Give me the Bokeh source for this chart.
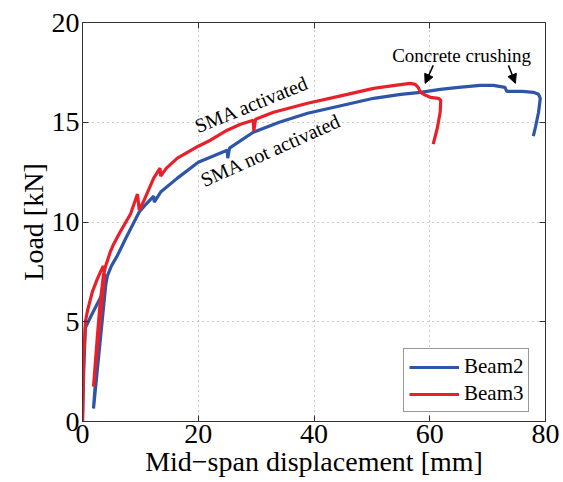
from bokeh.plotting import figure
from bokeh.models import (Range1d, LinearAxis, Legend, LegendItem, Label, Arrow,
                          NormalHead, FixedTicker)
from bokeh.embed import file_html
from bokeh.resources import INLINE

# ---- data ----
beam2_x = [0, 0.2, 0.5, 1.0, 1.5, 2.2, 3.1, 3.8, 4.0, 1.9, 2.5, 3.2, 3.8, 4.3, 5.0, 6.0,
           7.5, 9.8, 11.0, 12.3, 12.4, 13.5, 16.4, 20, 25, 25.1, 25.4, 29.5, 34, 38.9,
           45, 50.3, 55, 58.4, 61.8, 65, 68.7, 71, 73, 73.3, 76, 77.9, 78.8, 79.1,
           78.8, 78.3, 77.9]
beam2_y = [0, 2.5, 4.7, 5.0, 5.3, 5.7, 6.2, 6.6, 6.8, 0.65, 3.0, 5.0, 6.5, 7.3, 7.8, 8.3,
           9.2, 10.5, 10.9, 11.3, 11.0, 11.5, 12.2, 13.0, 13.6, 13.2, 13.7, 14.5, 15.0, 15.45,
           15.85, 16.2, 16.4, 16.5, 16.65, 16.75, 16.85, 16.85, 16.75, 16.55, 16.55, 16.5, 16.4, 16.2,
           15.5, 14.8, 14.3]

beam3_x = [0, 0.2, 0.5, 0.9, 1.7, 2.5, 3.1, 3.6, 3.8, 1.9, 2.5, 3.0, 3.6, 4.0, 4.8, 5.4,
           6.5, 8.3, 9.5, 9.8, 10.5, 12.3, 13.4, 13.5, 14.5, 16.4, 20, 22.1, 25, 27.3,
           29.5, 29.6, 29.9, 33, 38.9, 45, 50.3, 54, 56.6, 57.5, 58.0, 58.4, 59.3, 60.1,
           61.5, 61.9, 61.8, 61.3, 60.6]
beam3_y = [0, 3.0, 5.0, 5.6, 6.5, 7.1, 7.5, 7.8, 7.3, 1.75, 4.0, 5.8, 7.3, 7.8, 8.5, 8.9,
           9.5, 10.4, 11.4, 10.6, 11.0, 12.2, 12.7, 12.3, 12.7, 13.2, 13.8, 14.1, 14.6, 14.9,
           15.1, 14.55, 15.15, 15.5, 15.95, 16.35, 16.7, 16.85, 16.95, 16.9, 16.75, 16.5, 16.35, 16.25,
           16.2, 16.1, 15.5, 14.7, 13.9]

x_ticks = [0, 20, 40, 60, 80]
y_ticks = [0, 5, 10, 15, 20]

FONT = "Liberation Serif"
BLUE = "#2D56A8"
RED = "#E8202A"

p = figure(width=563, height=482, output_backend="svg", toolbar_location=None,
           x_range=Range1d(0, 80), y_range=Range1d(0, 20),
           min_border_left=82, min_border_right=18, min_border_top=22, min_border_bottom=61)
p.background_fill_color = "white"
p.border_fill_color = "white"
p.outline_line_color = "#333333"
p.outline_line_width = 1

r2 = p.line(beam2_x, beam2_y, line_color=BLUE, line_width=3.2)
r3 = p.line(beam3_x, beam3_y, line_color=RED, line_width=3.2)

for ax in (p.xaxis[0], p.yaxis[0]):
    ax.major_label_text_font = FONT
    ax.major_label_text_font_size = "28px"
    ax.major_label_text_color = "black"
    ax.axis_label_text_font = FONT
    ax.axis_label_text_font_size = "28px"
    ax.axis_label_text_color = "black"
    ax.axis_label_text_font_style = "normal"
    ax.major_tick_in = 6
    ax.major_tick_out = 0
    ax.minor_tick_in = 0
    ax.minor_tick_out = 0
    ax.axis_line_color = "#333333"
    ax.major_tick_line_color = "#333333"
    ax.major_label_standoff = 3
    ax.axis_label_standoff = 0

p.xaxis[0].ticker = FixedTicker(ticks=x_ticks)
p.yaxis[0].ticker = FixedTicker(ticks=y_ticks)
p.xaxis[0].axis_label = "Mid\u2212span displacement [mm]"
p.yaxis[0].axis_label = "Load [kN]"

for g, t in ((p.xgrid[0], x_ticks), (p.ygrid[0], y_ticks)):
    g.ticker = FixedTicker(ticks=t)
    g.grid_line_color = "#9a9a9a"
    g.grid_line_dash = "1 4"
    g.grid_line_width = 1

# mirrored ticks on top and right (no labels)
top = LinearAxis(ticker=FixedTicker(ticks=x_ticks),
                 major_label_overrides={t: "" for t in x_ticks},
                 major_tick_in=6, major_tick_out=0, minor_tick_in=0, minor_tick_out=0,
                 axis_line_color="#333333", major_tick_line_color="#333333", major_label_standoff=0)
right = LinearAxis(ticker=FixedTicker(ticks=y_ticks),
                   major_label_overrides={t: "" for t in y_ticks},
                   major_tick_in=6, major_tick_out=0, minor_tick_in=0, minor_tick_out=0,
                   axis_line_color="#333333", major_tick_line_color="#333333", major_label_standoff=0)
p.add_layout(top, "above")
p.add_layout(right, "right")

legend = Legend(items=[LegendItem(label="Beam2", renderers=[r2]),
                       LegendItem(label="Beam3", renderers=[r3])],
                location=(321, 9), label_text_font=FONT, label_text_font_size="21px",
                label_text_color="black", label_height=22,
                glyph_width=50, glyph_height=20, label_standoff=5, spacing=2,
                padding=5, margin=0, border_line_color="#333333", border_line_width=1,
                background_fill_color="white", background_fill_alpha=1)
p.add_layout(legend)

p.add_layout(Label(x=29.2, y=15.9, text="SMA activated", angle=22, angle_units="deg",
                   text_align="center", text_baseline="middle", text_font=FONT,
                   text_font_size="20px", text_color="black"))
p.add_layout(Label(x=32.5, y=13.6, text="SMA not activated", angle=24, angle_units="deg",
                   text_align="center", text_baseline="middle", text_font=FONT,
                   text_font_size="20px", text_color="black"))
p.add_layout(Label(x=65.5, y=18.35, text="Concrete crushing",
                   text_align="center", text_baseline="middle", text_font=FONT,
                   text_font_size="19px", text_color="black"))
p.add_layout(Arrow(x_start=60.6, y_start=17.85, x_end=59.2, y_end=16.95, line_width=1.5,
                   end=NormalHead(size=9, fill_color="black", line_color="black")))
p.add_layout(Arrow(x_start=73.6, y_start=17.85, x_end=74.8, y_end=16.95, line_width=1.5,
                   end=NormalHead(size=9, fill_color="black", line_color="black")))

open("out.html", "w").write(file_html(p, INLINE))
